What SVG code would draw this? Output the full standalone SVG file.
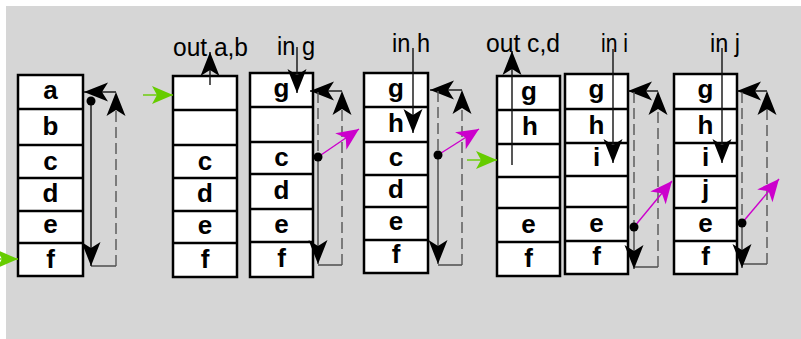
<svg xmlns="http://www.w3.org/2000/svg" width="801" height="339" viewBox="0 0 801 339">
  <style>
    .cell { fill: #ffffff; stroke: #000000; stroke-width: 2.5; }
    .rows { fill: none; stroke: #000000; stroke-width: 2.5; }
    .ch { font-family: "Liberation Sans", Arial, sans-serif; font-weight: bold; font-size: 26px; text-anchor: middle; fill: #000; }
    .lbl { font-family: "Liberation Sans", Arial, sans-serif; font-size: 25px; fill: #000; }
    .ln { fill: none; stroke: #111111; stroke-width: 1.4; }
    .gray { fill: none; stroke: #555555; stroke-width: 1.6; }
    .dash { fill: none; stroke: #555555; stroke-width: 1.4; stroke-dasharray: 11 5; }
    .grn { fill: none; stroke: #66cc00; stroke-width: 1.4; }
    .mag { fill: none; stroke: #cc00cc; stroke-width: 1.4; }
    .dot { fill: #000000; }
  </style>
  <defs>
    <marker id="ah" viewBox="-25 -11 26 22" refX="0" refY="0" markerWidth="26" markerHeight="22" markerUnits="userSpaceOnUse" orient="auto">
      <path d="M0,0 L-24,-9.5 L-18,0 L-24,9.5 Z" fill="#000000"/>
    </marker>
    <marker id="ahg" viewBox="-23 -10 24 20" refX="0" refY="0" markerWidth="24" markerHeight="20" markerUnits="userSpaceOnUse" orient="auto">
      <path d="M0,0 L-21,-9 L-16,0 L-21,9 Z" fill="#66cc00"/>
    </marker>
    <marker id="ahm" viewBox="-23 -11 24 22" refX="0" refY="0" markerWidth="24" markerHeight="22" markerUnits="userSpaceOnUse" orient="auto">
      <path d="M0,0 L-22,-10 L-16,0 L-22,10 Z" fill="#cc00cc"/>
    </marker>
  </defs>

  <!-- canvas -->
  <rect x="0" y="0" width="801" height="339" fill="#ffffff"/>
  <rect x="6" y="6" width="795" height="333" fill="#d6d6d6"/>

  <!-- stack 1: a..f -->
  <g id="stack1">
    <rect class="cell" x="18" y="75" width="65" height="201"/>
    <path class="rows" d="M18,109H83M18,145H83M18,178H83M18,211H83M18,243H83"/>
    <text class="ch" x="50.5" y="99">a</text>
    <text class="ch" x="50.5" y="135">b</text>
    <text class="ch" x="50.5" y="170">c</text>
    <text class="ch" x="50.5" y="202">d</text>
    <text class="ch" x="50.5" y="233">e</text>
    <text class="ch" x="50.5" y="268">f</text>
  </g>

  <!-- stack 2: after out a,b -->
  <g id="stack2">
    <rect class="cell" x="173" y="76" width="64" height="201"/>
    <path class="rows" d="M173,110H237M173,145H237M173,178H237M173,211H237M173,243H237"/>
    <text class="ch" x="205" y="170">c</text>
    <text class="ch" x="205" y="202">d</text>
    <text class="ch" x="205" y="234">e</text>
    <text class="ch" x="205" y="268">f</text>
  </g>

  <!-- stack 3: after in g -->
  <g id="stack3">
    <rect class="cell" x="250" y="73" width="63" height="204"/>
    <path class="rows" d="M250,107H313M250,142H313M250,174H313M250,209H313M250,242H313"/>
    <text class="ch" x="281.5" y="97">g</text>
    <text class="ch" x="281.5" y="166">c</text>
    <text class="ch" x="281.5" y="199">d</text>
    <text class="ch" x="281.5" y="233">e</text>
    <text class="ch" x="281.5" y="267">f</text>
  </g>

  <!-- stack 4: after in h -->
  <g id="stack4">
    <rect class="cell" x="364" y="73" width="64" height="200"/>
    <path class="rows" d="M364,107H428M364,142H428M364,175H428M364,207H428M364,240H428"/>
    <text class="ch" x="396" y="97">g</text>
    <text class="ch" x="396" y="132">h</text>
    <text class="ch" x="396" y="166">c</text>
    <text class="ch" x="396" y="198">d</text>
    <text class="ch" x="396" y="230">e</text>
    <text class="ch" x="396" y="263">f</text>
  </g>

  <!-- stack 5: after out c,d -->
  <g id="stack5">
    <rect class="cell" x="497" y="76" width="63" height="200"/>
    <path class="rows" d="M497,110H560M497,144H560M497,177H560M497,208H560M497,242H560"/>
    <text class="ch" x="529" y="100">g</text>
    <text class="ch" x="530" y="135">h</text>
    <text class="ch" x="528.5" y="233">e</text>
    <text class="ch" x="528.5" y="267">f</text>
  </g>

  <!-- stack 6: after in i -->
  <g id="stack6">
    <rect class="cell" x="565" y="74" width="63" height="200"/>
    <path class="rows" d="M565,109H628M565,143H628M565,176H628M565,207H628M565,241H628"/>
    <text class="ch" x="596.5" y="98">g</text>
    <text class="ch" x="596.5" y="134">h</text>
    <text class="ch" x="596.5" y="166">i</text>
    <text class="ch" x="596.5" y="232">e</text>
    <text class="ch" x="596.5" y="265">f</text>
  </g>

  <!-- stack 7: after in j -->
  <g id="stack7">
    <rect class="cell" x="674" y="74" width="63" height="200"/>
    <path class="rows" d="M674,109H737M674,143H737M674,176H737M674,208H737M674,241H737"/>
    <text class="ch" x="705.5" y="98">g</text>
    <text class="ch" x="705.5" y="134">h</text>
    <text class="ch" x="705.5" y="166">i</text>
    <text class="ch" x="705.5" y="198">j</text>
    <text class="ch" x="705.5" y="232">e</text>
    <text class="ch" x="705.5" y="265">f</text>
  </g>

  <!-- operation labels -->
  <g id="labels">
    <text class="lbl" x="173" y="56" textLength="75" lengthAdjust="spacingAndGlyphs">out a,b</text>
    <text class="lbl" x="277" y="55" textLength="38" lengthAdjust="spacingAndGlyphs">in g</text>
    <text class="lbl" x="392" y="52" textLength="38" lengthAdjust="spacingAndGlyphs">in h</text>
    <text class="lbl" x="486" y="52" textLength="74" lengthAdjust="spacingAndGlyphs">out c,d</text>
    <text class="lbl" x="601" y="52" textLength="27" lengthAdjust="spacingAndGlyphs">in i</text>
    <text class="lbl" x="710" y="52" textLength="30" lengthAdjust="spacingAndGlyphs">in j</text>
  </g>

  <g id="connectors">
    <!-- head / tail pointers, stack 1 -->
    <line class="ln" x1="116" y1="92" x2="84" y2="92" marker-end="url(#ah)"/>
    <line class="dash" x1="116" y1="266" x2="116" y2="92" marker-end="url(#ah)"/>
    <line class="gray" x1="91" y1="266" x2="116" y2="266"/>
    <line class="ln" x1="91" y1="101" x2="91" y2="266" marker-end="url(#ah)"/>
    <circle class="dot" cx="91" cy="101" r="4.5"/>

    <!-- stack 3 -->
    <line class="ln" x1="342" y1="91" x2="310" y2="91" marker-end="url(#ah)"/>
    <line class="dash" x1="342" y1="265" x2="342" y2="91" marker-end="url(#ah)"/>
    <line class="gray" x1="318" y1="265" x2="342" y2="265"/>
    <line class="dash" x1="318" y1="92" x2="318" y2="157"/>
    <line class="gray" x1="318" y1="157" x2="318" y2="264" marker-end="url(#ah)"/>
    <line class="mag" x1="318" y1="157" x2="359" y2="129" marker-end="url(#ahm)"/>
    <circle class="dot" cx="318" cy="157" r="4.5"/>

    <!-- stack 4 -->
    <line class="ln" x1="462" y1="90" x2="430" y2="90" marker-end="url(#ah)"/>
    <line class="dash" x1="462" y1="265" x2="462" y2="90" marker-end="url(#ah)"/>
    <line class="gray" x1="438" y1="265" x2="462" y2="265"/>
    <line class="dash" x1="438" y1="91" x2="438" y2="155"/>
    <line class="gray" x1="438" y1="155" x2="438" y2="264" marker-end="url(#ah)"/>
    <line class="mag" x1="438" y1="155" x2="479" y2="129" marker-end="url(#ahm)"/>
    <circle class="dot" cx="438" cy="155" r="4.5"/>

    <!-- stack 6 -->
    <line class="ln" x1="658" y1="91" x2="628" y2="91" marker-end="url(#ah)"/>
    <line class="dash" x1="658" y1="267" x2="658" y2="91" marker-end="url(#ah)"/>
    <line class="gray" x1="634" y1="267" x2="658" y2="267"/>
    <line class="dash" x1="634" y1="92" x2="634" y2="227"/>
    <line class="gray" x1="634" y1="227" x2="634" y2="269" marker-end="url(#ah)"/>
    <line class="mag" x1="634" y1="227" x2="672" y2="181" marker-end="url(#ahm)"/>
    <circle class="dot" cx="634" cy="227" r="4.5"/>

    <!-- stack 7 -->
    <line class="ln" x1="767" y1="91" x2="737" y2="91" marker-end="url(#ah)"/>
    <line class="dash" x1="767" y1="264" x2="767" y2="91" marker-end="url(#ah)"/>
    <line class="gray" x1="743" y1="264" x2="767" y2="264"/>
    <line class="dash" x1="742" y1="92" x2="742" y2="223"/>
    <line class="gray" x1="742" y1="223" x2="742" y2="268" marker-end="url(#ah)"/>
    <line class="mag" x1="742" y1="223" x2="779" y2="179" marker-end="url(#ahm)"/>
    <circle class="dot" cx="742" cy="223" r="4.5"/>

    <!-- in / out operations -->
    <line class="ln" x1="210" y1="85" x2="210" y2="52" marker-end="url(#ah)"/>
    <line class="ln" x1="297" y1="47" x2="297" y2="93" marker-end="url(#ah)"/>
    <line class="ln" x1="413" y1="48" x2="413" y2="133" marker-end="url(#ah)"/>
    <line class="ln" x1="512" y1="165" x2="512" y2="51" marker-end="url(#ah)"/>
    <line class="ln" x1="613" y1="49" x2="613" y2="163" marker-end="url(#ah)"/>
    <line class="ln" x1="722" y1="48" x2="722" y2="163" marker-end="url(#ah)"/>

    <!-- green pointers -->
    <line class="grn" x1="0" y1="259" x2="18" y2="259" marker-end="url(#ahg)"/>
    <line class="grn" x1="143" y1="95" x2="173" y2="95" marker-end="url(#ahg)"/>
    <line class="grn" x1="467" y1="160" x2="497" y2="160" marker-end="url(#ahg)"/>
  </g>
</svg>
